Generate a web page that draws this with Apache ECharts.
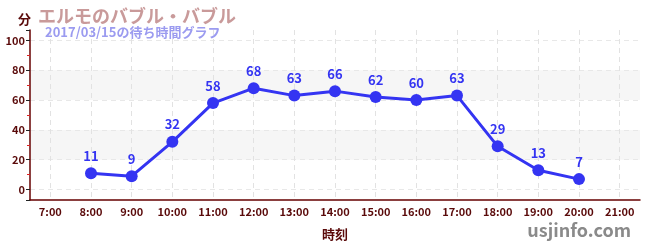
<!DOCTYPE html>
<html><head><meta charset="utf-8">
<script src="https://cdn.jsdelivr.net/npm/echarts@6/dist/echarts.min.js"></script>
<style>html,body{margin:0;padding:0;background:#fff}#c{width:650px;height:250px}</style>
</head><body><div id="c"></div>
<script>
var categories = ['7:00','8:00','9:00','10:00','11:00','12:00','13:00','14:00','15:00','16:00','17:00','18:00','19:00','20:00','21:00'];
var waitTimes = [null, 11, 9, 32, 58, 68, 63, 66, 62, 60, 63, 29, 13, 7, null];
var titleText = 'エルモのバブル・バブル';
var subtitleText = '2017/03/15の待ち時間グラフ';
var yTickValues = [0, 20, 40, 60, 80, 100];

var chart = echarts.init(document.getElementById('c'), null, {renderer: 'canvas'});
var font = '"Noto Sans CJK JP", "Noto Sans", sans-serif';
var maroon = '#5a0a0a';
chart.setOption({
  animation: false,
  textStyle: {fontFamily: font},
  title: [
    {text: titleText, left: 33, top: 2, textStyle: {fontFamily: font, fontSize: 18, fontWeight: 'bold', color: '#c99a9a'}},
    {text: subtitleText, left: 40, top: 21, textStyle: {fontFamily: font, fontSize: 13, fontWeight: 'bold', color: '#9b9bf0'}},
    {text: '分', left: 13, top: 8, textStyle: {fontFamily: font, fontSize: 13, fontWeight: 'bold', color: maroon}},
    {text: 'usjinfo.com', right: 14, top: 216, textStyle: {fontFamily: font, fontSize: 18, fontWeight: 'bold', color: '#8a8a8a'}}
  ],
  grid: {left: 30, right: 10, top: 30, bottom: 50},
  xAxis: {
    type: 'category', data: categories, boundaryGap: true,
    name: '時刻', nameLocation: 'middle', nameGap: 28,
    nameTextStyle: {fontFamily: font, fontSize: 13, fontWeight: 'bold', color: maroon},
    axisLine: {onZero: false, lineStyle: {color: '#660000', width: 1.5}},
    axisTick: {alignWithLabel: true, length: 3, lineStyle: {color: '#555'}},
    axisLabel: {fontFamily: font, fontSize: 11, fontWeight: 'bold', color: maroon, margin: 6},
    splitLine: {show: true, interval: 0, alignWithLabel: true, lineStyle: {color: '#e2e2e2', type: [5, 4]}}
  },
  yAxis: {
    type: 'value', min: -7, max: 107, splitNumber: 5,
    axisLine: {show: true, lineStyle: {color: '#660000', width: 1.5}},
    axisTick: {show: true, length: 4, lineStyle: {color: '#222'}},
    minorTick: {show: true, splitNumber: 2, length: 3, lineStyle: {color: '#dd2222'}},
    axisLabel: {fontFamily: font, fontSize: 11, fontWeight: 'bold', color: maroon, margin: 5,
      formatter: function (v) { return yTickValues.indexOf(v) >= 0 ? String(v) : ''; }},
    splitLine: {show: true, lineStyle: {color: ['transparent','#e8e8e8','#e8e8e8','#e8e8e8','#e8e8e8','#e8e8e8','#e8e8e8','transparent'], type: [5, 4]}},
    splitArea: {show: true, areaStyle: {color: ['transparent','transparent','#f6f6f6','transparent','#f6f6f6','transparent','transparent']}}
  },
  series: [{
    type: 'line', data: waitTimes, connectNulls: false,
    symbol: 'circle', symbolSize: 12,
    itemStyle: {color: '#3434f2'},
    lineStyle: {color: '#3434f2', width: 3},
    label: {show: true, position: 'top', distance: 5, fontFamily: font, fontSize: 13, fontWeight: 'bold', color: '#3434f2'}
  }]
});
</script></body></html>
